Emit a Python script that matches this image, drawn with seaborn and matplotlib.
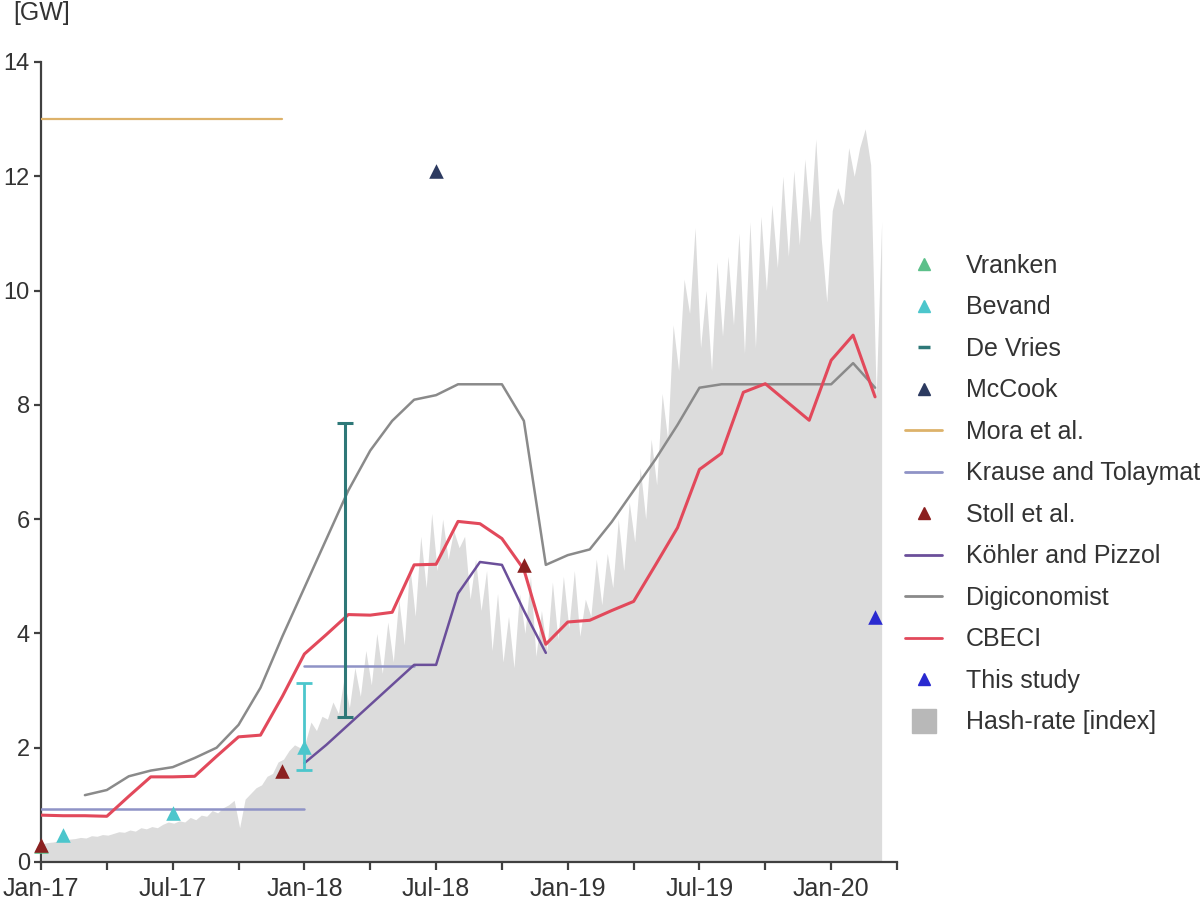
import numpy as np
import pandas as pd
import matplotlib
matplotlib.use("Agg")
import matplotlib.pyplot as plt
import seaborn as sns
from matplotlib.lines import Line2D

# ---------------- data (x = months since Jan-2017) ----------------
tick_pos = [0, 3, 6, 9, 12, 15, 18, 21, 24, 27, 30, 33, 36, 39]
tick_labels = ["Jan-17", "", "Jul-17", "", "Jan-18", "", "Jul-18", "",
               "Jan-19", "", "Jul-19", "", "Jan-20", ""]
y_ticks = [0, 2, 4, 6, 8, 10, 12, 14]

cbeci_x = list(range(0, 39))
cbeci_y = [0.82, 0.81, 0.81, 0.80, 1.15, 1.49, 1.49, 1.50, 1.85, 2.19,
           2.22, 2.90, 3.64, 3.98, 4.33, 4.32, 4.37, 5.20, 5.21, 5.96,
           5.92, 5.66, 5.12, 3.81, 4.20, 4.23, 4.40, 4.56, 5.20, 5.85,
           6.87, 7.15, 8.22, 8.37, 8.05, 7.73, 8.78, 9.22, 8.14]

digi_x = list(range(2, 39))
digi_y = [1.17, 1.26, 1.50, 1.60, 1.66, 1.82, 2.00, 2.40, 3.05, 3.95,
          4.80, 5.65, 6.50, 7.20, 7.72, 8.09, 8.17, 8.36, 8.36, 8.36,
          7.72, 5.20, 5.37, 5.47, 5.95, 6.50, 7.05, 7.65, 8.30, 8.36,
          8.36, 8.36, 8.36, 8.36, 8.36, 8.73, 8.30]

kohler_x = list(range(12, 24))
kohler_y = [1.73, 2.05, 2.40, 2.75, 3.10, 3.45, 3.45, 4.70, 5.25, 5.20, 4.40, 3.66]

mora_x = [0, 11]
mora_y = [13.0, 13.0]

krause1_x = [0, 12]
krause1_y = [0.93, 0.93]
krause2_x = [12, 17]
krause2_y = [3.43, 3.43]

vranken_x = [0]
vranken_y = [0.28]

bevand_x = [1, 6, 12]
bevand_y = [0.48, 0.86, 2.02]
bevand_lo = [1.61]
bevand_hi = [3.13]

devries_x = [13.85]
devries_lo = [2.54]
devries_hi = [7.68]

mccook_x = [18]
mccook_y = [12.1]

stoll_x = [0, 11, 22]
stoll_y = [0.30, 1.60, 5.20]

study_x = [38]
study_y = [4.28]

# hash-rate index, weekly readings (4 per month, from Jan-17)
hash_vals = [
    0.32, 0.34, 0.35, 0.37,  0.36, 0.40, 0.41, 0.43,  0.42, 0.46, 0.45, 0.48,
    0.47, 0.50, 0.53, 0.52,  0.56, 0.54, 0.60, 0.58,  0.62, 0.60, 0.66, 0.70,
    0.68, 0.72, 0.70, 0.78,  0.74, 0.82, 0.80, 0.90,  0.86, 0.95, 1.00, 1.08,
    0.60, 1.10, 1.20, 1.30,  1.35, 1.50, 1.55, 1.75,  1.80, 1.95, 2.05, 2.00,
    2.10, 2.45, 2.30, 2.55,  2.50, 2.80, 2.60, 3.20,  2.70, 3.40, 2.90, 3.70,
    3.10, 4.00, 3.30, 4.20,  3.50, 4.60, 3.80, 5.20,  4.30, 5.70, 4.80, 6.10,
    5.10, 6.00, 5.30, 5.80,  5.50, 5.70, 4.60, 5.30,  4.40, 5.10, 3.70, 4.70,
    3.50, 4.30, 3.40, 4.70,  4.00, 5.00, 3.60, 4.40,  3.70, 4.90, 3.90, 5.00,
    4.10, 5.10, 3.95, 4.60,  4.30, 5.30, 4.50, 5.40,  4.80, 6.00, 5.10, 6.30,
    5.60, 6.90, 6.00, 7.40,  6.60, 8.20, 7.40, 9.40,  8.60, 10.2, 9.60, 11.1,
    9.00, 10.0, 8.60, 10.5,  9.20, 10.6, 9.40, 11.0,  8.90, 11.2, 9.00, 11.3,
    10.0, 11.5, 10.4, 12.0,  10.6, 12.1, 10.8, 12.3,  11.2, 12.65, 10.9, 9.80,
    11.4, 11.8, 11.5, 12.5,  12.0, 12.5, 12.83, 12.2,  8.15, 11.2,
]

# ---------------- style ----------------
sns.set_theme(style="ticks")
plt.rcParams["font.family"] = ["Liberation Sans", "DejaVu Sans"]

TXT = "#333333"
C_FILL = "#dcdcdc"
C_LEG_FILL = "#b8b8b8"
C_CBECI = "#e2495b"
C_DIGI = "#8a8a8a"
C_KOHLER = "#6b4f9a"
C_MORA = "#ddb26a"
C_KRAUSE = "#8f93c6"
C_VRANKEN = "#5cc08a"
C_BEVAND = "#4cc6cc"
C_DEVRIES = "#2e7878"
C_MCCOOK = "#2c3a60"
C_STOLL = "#8b2020"
C_STUDY = "#2a2ad0"

fig = plt.figure(figsize=(12, 9), dpi=100)
ax = fig.add_axes([41 / 1200, 38 / 900, (897 - 41) / 1200, 800 / 900])

# hash-rate area
hash_df = pd.DataFrame({"x": np.arange(len(hash_vals)) * 0.25 + 0.05, "y": hash_vals})
ax.fill_between(hash_df["x"], 0, hash_df["y"], color=C_FILL, lw=0, zorder=1)

# horizontal estimate lines
sns.lineplot(x=mora_x, y=mora_y, ax=ax, color=C_MORA, lw=1.6, zorder=3)
sns.lineplot(x=krause1_x, y=krause1_y, ax=ax, color=C_KRAUSE, lw=1.8, zorder=3)
sns.lineplot(x=krause2_x, y=krause2_y, ax=ax, color=C_KRAUSE, lw=1.8, zorder=3)

# model lines
sns.lineplot(x=digi_x, y=digi_y, ax=ax, color=C_DIGI, lw=1.8, zorder=4)
sns.lineplot(x=kohler_x, y=kohler_y, ax=ax, color=C_KOHLER, lw=1.8, zorder=4)
sns.lineplot(x=cbeci_x, y=cbeci_y, ax=ax, color=C_CBECI, lw=2.2, zorder=5)

# error bars
dv_mid = [(a + b) / 2 for a, b in zip(devries_lo, devries_hi)]
dv_err = [(b - a) / 2 for a, b in zip(devries_lo, devries_hi)]
ax.errorbar(devries_x, dv_mid, yerr=dv_err, fmt="none", ecolor=C_DEVRIES,
            elinewidth=2.2, capsize=6, capthick=2.2, zorder=6)
bv_mid = [(a + b) / 2 for a, b in zip(bevand_lo, bevand_hi)]
bv_err = [(b - a) / 2 for a, b in zip(bevand_lo, bevand_hi)]
ax.errorbar([bevand_x[-1]], bv_mid, yerr=bv_err, fmt="none", ecolor=C_BEVAND,
            elinewidth=2.0, capsize=6, capthick=2.0, zorder=6)

# point estimates
ms = 110
ax.scatter(vranken_x, vranken_y, marker="^", s=ms, color=C_VRANKEN, zorder=7, clip_on=False, lw=0)
ax.scatter(bevand_x, bevand_y, marker="^", s=ms, color=C_BEVAND, zorder=7, clip_on=False, lw=0)
ax.scatter(mccook_x, mccook_y, marker="^", s=ms, color=C_MCCOOK, zorder=7, clip_on=False, lw=0)
ax.scatter(stoll_x, stoll_y, marker="^", s=ms, color=C_STOLL, zorder=8, clip_on=False, lw=0)
ax.scatter(study_x, study_y, marker="^", s=ms, color=C_STUDY, zorder=8, clip_on=False, lw=0)

# axes
ax.set_xlim(0, 39)
ax.set_ylim(0, 14)
ax.set_xticks(tick_pos)
ax.set_xticklabels(tick_labels)
ax.set_yticks(y_ticks)
ax.set_yticklabels([str(v) for v in y_ticks])
ax.set_xlabel("")
ax.set_ylabel("")
for s in ["top", "right"]:
    ax.spines[s].set_visible(False)
for s in ["left", "bottom"]:
    ax.spines[s].set_color("#404040")
    ax.spines[s].set_linewidth(1.6)
ax.tick_params(axis="x", length=6, width=1.6, color="#404040", pad=5,
               labelsize=18, labelcolor=TXT)
ax.tick_params(axis="y", length=5, width=1.6, color="#404040", pad=3,
               labelsize=17, labelcolor=TXT)
ax.set_facecolor("white")

fig.text(13 / 1200, 1 - 1 / 900, "[GW]", fontsize=18, color=TXT, ha="left", va="top")

# legend
handles = [
    Line2D([], [], ls="none", marker="^", ms=8, color=C_VRANKEN),
    Line2D([], [], ls="none", marker="^", ms=8, color=C_BEVAND),
    Line2D([], [], ls="none", marker="_", ms=9, mew=2.5, color=C_DEVRIES),
    Line2D([], [], ls="none", marker="^", ms=8, color=C_MCCOOK),
    Line2D([], [], color=C_MORA, lw=2),
    Line2D([], [], color=C_KRAUSE, lw=2),
    Line2D([], [], ls="none", marker="^", ms=8, color=C_STOLL),
    Line2D([], [], color=C_KOHLER, lw=2),
    Line2D([], [], color=C_DIGI, lw=2),
    Line2D([], [], color=C_CBECI, lw=2),
    Line2D([], [], ls="none", marker="^", ms=8, color=C_STUDY),
    Line2D([], [], ls="none", marker="s", ms=17, color=C_LEG_FILL),
]
labels = ["Vranken", "Bevand", "De Vries", "McCook", "Mora et al.",
          "Krause and Tolaymat", "Stoll et al.", "Köhler and Pizzol",
          "Digiconomist", "CBECI", "This study", "Hash-rate [index]"]
leg = fig.legend(handles, labels, loc="upper left",
                 bbox_to_anchor=(905 / 1200, 1 - 254 / 900),
                 frameon=False, borderpad=0, borderaxespad=0,
                 handlelength=1.48, handletextpad=0.95, labelspacing=0.7,
                 fontsize=18)
for t in leg.get_texts():
    t.set_color(TXT)

fig.savefig("out.png", dpi=100, facecolor="white")
